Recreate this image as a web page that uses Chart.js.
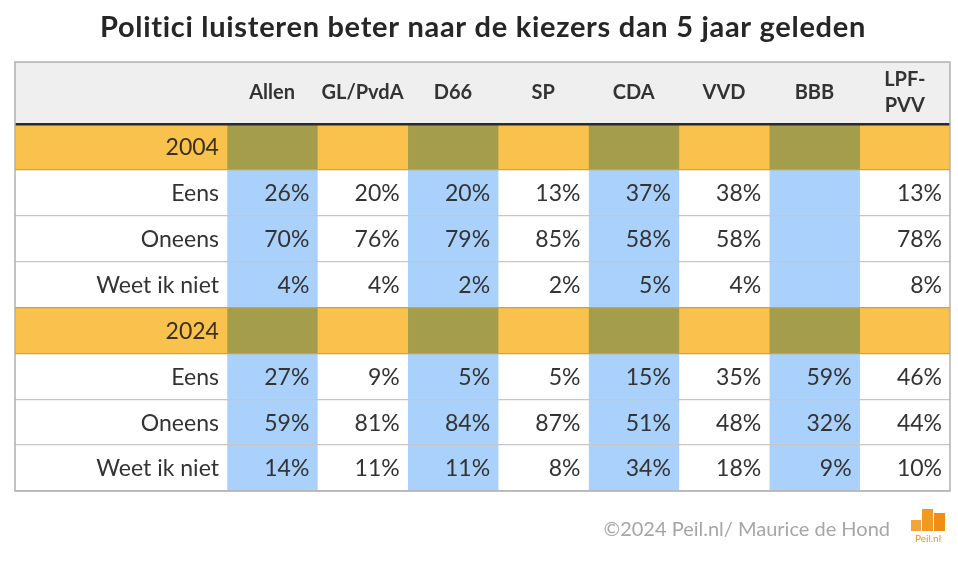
<!DOCTYPE html>
<html>
<head>
<meta charset="utf-8">
<title>Politici luisteren beter naar de kiezers</title>
<script src="https://cdn.jsdelivr.net/npm/chart.js@4.4.1/dist/chart.umd.min.js"></script>
<style>
  html, body { margin: 0; padding: 0; background: #fff; }
  canvas { display: block; }
</style>
</head>
<body>
<canvas id="tableChart" width="958" height="563"></canvas>
<script>
// Data
const parties = ['Allen', 'GL/PvdA', 'D66', 'SP', 'CDA', 'VVD', 'BBB', 'LPF-\nPVV'];
const rowLabels = ['2004', 'Eens', 'Oneens', 'Weet ik niet', '2024', 'Eens', 'Oneens', 'Weet ik niet'];

const eens2004   = [26, 20, 20, 13, 37, 38, null, 13];
const oneens2004 = [70, 76, 79, 85, 58, 58, null, 78];
const weet2004   = [4, 4, 2, 2, 5, 4, null, 8];
const eens2024   = [27, 9, 5, 5, 15, 35, 59, 46];
const oneens2024 = [59, 81, 84, 87, 51, 48, 32, 44];
const weet2024   = [14, 11, 11, 8, 34, 18, 9, 10];

// null = year header row
const rowValues = [null, eens2004, oneens2004, weet2004, null, eens2024, oneens2024, weet2024];

const title = 'Politici luisteren beter naar de kiezers dan 5 jaar geleden';
const credit = '\u00A92024 Peil.nl/ Maurice de Hond';

// Colours
const ORANGE = '#f8c24c';
const OLIVE = '#a49d4c';
const BLUE = '#a9d1fb';
const WHITE = '#ffffff';
const FONT = 'Lato, "Noto Sans", sans-serif';

// label column width in "column" units
const LABEL_MIN = -2.345;

const isYear = r => rowValues[r] === null;

function buildDatasets() {
    const sets = [];
    // label column
    sets.push({
        label: 'labels',
        data: rowLabels.map(() => [LABEL_MIN, 0]),
        backgroundColor: rowLabels.map((_, r) => isYear(r) ? ORANGE : WHITE)
    });
    parties.forEach((p, i) => {
        sets.push({
            label: p,
            data: rowLabels.map(() => [i, i + 1]),
            backgroundColor: rowLabels.map((_, r) => {
                if (isYear(r)) return i % 2 === 0 ? OLIVE : ORANGE;
                return i % 2 === 0 ? BLUE : WHITE;
            })
        });
    });
    return sets;
}

const tablePlugin = {
    id: 'tableText',
    beforeDraw(chart) {
        const ctx = chart.ctx;
        const area = chart.chartArea;
        ctx.save();
        ctx.fillStyle = '#efefef';
        ctx.fillRect(area.left, 62, area.right - area.left, area.top - 62);
        ctx.restore();
    },
    afterDraw(chart) {
        const ctx = chart.ctx;
        const x = chart.scales.x;
        const y = chart.scales.y;
        const area = chart.chartArea;
        ctx.save();

        // title
        ctx.fillStyle = '#262626';
        ctx.font = 'bold 29px ' + FONT;
        ctx.letterSpacing = '0.7px';
        ctx.textAlign = 'center';
        ctx.textBaseline = 'middle';
        ctx.fillText(title, 483, 28);
        ctx.letterSpacing = '0px';

        // header
        ctx.font = 'bold 20px ' + FONT;
        ctx.fillStyle = '#333';
        parties.forEach((p, i) => {
            const cx = x.getPixelForValue(i + 0.5);
            const lines = p.split('\n');
            if (lines.length === 1) {
                ctx.fillText(p, cx, 93);
            } else {
                ctx.fillText(lines[0], cx, 80);
                ctx.fillText(lines[1], cx, 106);
            }
        });

        // row labels + values
        ctx.font = '23px ' + FONT;
        ctx.textAlign = 'right';
        rowLabels.forEach((lab, r) => {
            const cy = y.getPixelForValue(r) + 1;
            ctx.fillStyle = isYear(r) ? '#3a3020' : '#333';
            ctx.fillText(lab, x.getPixelForValue(0) - 8, cy);
            const vals = rowValues[r];
            if (!vals) return;
            ctx.fillStyle = '#333';
            vals.forEach((v, i) => {
                if (v === null) return;
                ctx.fillText(v + '%', x.getPixelForValue(i + 1) - 8, cy);
            });
        });

        // outer border
        ctx.strokeStyle = '#b0b0b0';
        ctx.lineWidth = 1.5;
        ctx.strokeRect(area.left, 62, area.right - area.left, area.bottom - 62);

        // credit
        ctx.font = '20px ' + FONT;
        ctx.fillStyle = '#a6a6a6';
        ctx.textAlign = 'right';
        ctx.fillText(credit, 890, 530);

        // Peil.nl logo
        ctx.fillStyle = '#f2a53a';
        ctx.fillRect(911, 520, 10, 11);
        ctx.fillStyle = '#f09a22';
        ctx.fillRect(922, 509, 11, 22);
        ctx.fillStyle = '#ee8e12';
        ctx.fillRect(934, 513, 11, 18);
        ctx.font = '10px ' + FONT;
        ctx.fillStyle = '#ee9420';
        ctx.textAlign = 'center';
        ctx.fillText('Peil.nl', 928, 539);

        ctx.restore();
    }
};

function gridColor(c) {
    const i = c.index;
    if (i === 0) return '#2b2b2b';
    if (i === rowLabels.length) return '#b0b0b0';
    if (isYear(i) || isYear(i - 1)) return '#c9a24e';
    return '#c6c6c6';
}

new Chart(document.getElementById('tableChart'), {
    type: 'bar',
    data: {
        labels: rowLabels,
        datasets: buildDatasets()
    },
    options: {
        responsive: false,
        animation: false,
        indexAxis: 'y',
        layout: { padding: { top: 124, left: 15, right: 8, bottom: 72 } },
        datasets: {
            bar: { grouped: false, barPercentage: 1, categoryPercentage: 1, borderWidth: 0 }
        },
        plugins: {
            legend: { display: false },
            tooltip: { enabled: false },
            title: { display: false }
        },
        scales: {
            x: { type: 'linear', min: LABEL_MIN, max: parties.length, display: false },
            y: {
                type: 'category',
                ticks: { display: false },
                border: { display: false },
                grid: {
                    offset: true,
                    drawTicks: false,
                    z: 1,
                    color: gridColor,
                    lineWidth: c => c.index === 0 ? 2.5 : 1.3
                }
            }
        }
    },
    plugins: [tablePlugin]
});
</script>
</body>
</html>
